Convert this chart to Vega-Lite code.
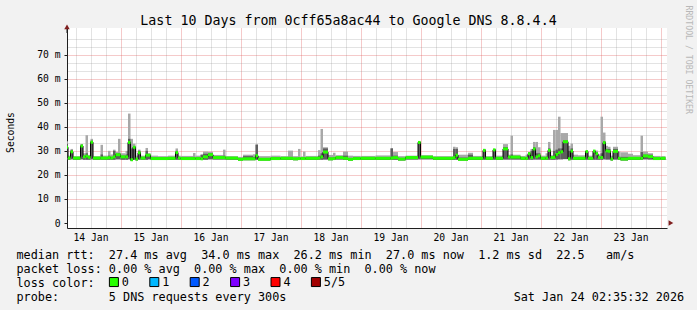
{
  "$schema": "https://vega.github.io/schema/vega-lite/v6.json",
  "width": 600,
  "height": 200,
  "autosize": {"type": "none"},
  "padding": {"left": 67, "top": 28, "right": 30, "bottom": 82},
  "background": "#f2f2f2",
  "view": {"fill": "#ffffff", "stroke": null},
  "config": {"font": "DejaVu Sans Mono"},
  "title": {
    "text": "Last 10 Days from 0cff65a8ac44 to Google DNS 8.8.4.4",
    "font": "DejaVu Sans Mono", "fontSize": 13.3, "fontWeight": "normal", "color": "#000000",
    "anchor": "middle", "frame": "group", "dx": -18.5, "offset": -33, "baseline": "alphabetic"
  },
  "resolve": {"axis": {"x": "independent", "y": "independent"}},
  "data": {"values": [
    {"t0":"2026-01-14T02:00","t1":"2026-01-14T03:00","m":31.5,"lo":26.5,"hi":34,"dk":33,"loss":"0"},
    {"t0":"2026-01-14T03:00","t1":"2026-01-14T04:00","m":27,"lo":26.3,"hi":28,"dk":27.4,"loss":"0"},
    {"t0":"2026-01-14T04:00","t1":"2026-01-14T05:00","m":29.6,"lo":26.5,"hi":30.8,"dk":30.3,"loss":"0"},
    {"t0":"2026-01-14T05:00","t1":"2026-01-14T08:00","m":27,"lo":26.3,"hi":27.8,"dk":27.3,"loss":"0"},
    {"t0":"2026-01-14T08:00","t1":"2026-01-14T09:00","m":32,"lo":26.5,"hi":32.8,"dk":32.5,"loss":"0"},
    {"t0":"2026-01-14T09:00","t1":"2026-01-14T10:00","m":27.5,"lo":26.3,"hi":29,"dk":28,"loss":"0"},
    {"t0":"2026-01-14T10:00","t1":"2026-01-14T11:00","m":27.8,"lo":26.3,"hi":36.5,"dk":29,"loss":"0"},
    {"t0":"2026-01-14T11:00","t1":"2026-01-14T12:00","m":27.3,"lo":26.3,"hi":28.3,"dk":27.7,"loss":"0"},
    {"t0":"2026-01-14T12:00","t1":"2026-01-14T13:00","m":33.6,"lo":26.5,"hi":35,"dk":34.2,"loss":"0"},
    {"t0":"2026-01-14T13:00","t1":"2026-01-14T16:00","m":27,"lo":26.3,"hi":27.8,"dk":27.3,"loss":"0"},
    {"t0":"2026-01-14T16:00","t1":"2026-01-14T17:00","m":27,"lo":26.3,"hi":32.5,"dk":28.5,"loss":"0"},
    {"t0":"2026-01-14T17:00","t1":"2026-01-14T19:00","m":27,"lo":26.3,"hi":28,"dk":27.4,"loss":"0"},
    {"t0":"2026-01-14T19:00","t1":"2026-01-14T20:00","m":27.2,"lo":26.3,"hi":30,"dk":28,"loss":"0"},
    {"t0":"2026-01-14T20:00","t1":"2026-01-14T21:00","m":27,"lo":26.3,"hi":28.5,"dk":27.5,"loss":"0"},
    {"t0":"2026-01-14T21:00","t1":"2026-01-14T22:00","m":27.5,"lo":26.3,"hi":30.5,"dk":30,"loss":"0"},
    {"t0":"2026-01-14T22:00","t1":"2026-01-14T23:00","m":28.4,"lo":26.5,"hi":29.5,"dk":28.8,"loss":"0"},
    {"t0":"2026-01-14T23:00","t1":"2026-01-15T00:00","m":28.4,"lo":26.5,"hi":35,"dk":29,"loss":"0"},
    {"t0":"2026-01-15T00:00","t1":"2026-01-15T02:00","m":27.5,"lo":26.3,"hi":29,"dk":28,"loss":"0"},
    {"t0":"2026-01-15T02:00","t1":"2026-01-15T03:00","m":27.5,"lo":26.3,"hi":30,"dk":28.5,"loss":"0"},
    {"t0":"2026-01-15T03:00","t1":"2026-01-15T04:00","m":33.5,"lo":26.5,"hi":45.5,"dk":35,"loss":"0"},
    {"t0":"2026-01-15T04:00","t1":"2026-01-15T05:00","m":26.3,"lo":25.8,"hi":35,"dk":31,"loss":"0"},
    {"t0":"2026-01-15T05:00","t1":"2026-01-15T06:00","m":31.5,"lo":26.3,"hi":33,"dk":32,"loss":"0"},
    {"t0":"2026-01-15T06:00","t1":"2026-01-15T07:00","m":26.6,"lo":26,"hi":28,"dk":27,"loss":"0"},
    {"t0":"2026-01-15T07:00","t1":"2026-01-15T08:00","m":29.2,"lo":26.3,"hi":30.5,"dk":30,"loss":"0"},
    {"t0":"2026-01-15T08:00","t1":"2026-01-15T10:00","m":27,"lo":26.3,"hi":28,"dk":27.4,"loss":"0"},
    {"t0":"2026-01-15T10:00","t1":"2026-01-15T11:00","m":28.2,"lo":26.3,"hi":31.2,"dk":30,"loss":"0"},
    {"t0":"2026-01-15T11:00","t1":"2026-01-15T12:00","m":28.2,"lo":26.5,"hi":29,"dk":28.6,"loss":"0"},
    {"t0":"2026-01-15T12:00","t1":"2026-01-15T15:00","m":26.8,"lo":26.2,"hi":28,"dk":27.3,"loss":"0"},
    {"t0":"2026-01-15T15:00","t1":"2026-01-15T19:00","m":26.8,"lo":26.2,"hi":27.8,"dk":27.2,"loss":"0"},
    {"t0":"2026-01-15T19:00","t1":"2026-01-15T22:00","m":26.9,"lo":26.2,"hi":28,"dk":27.4,"loss":"0"},
    {"t0":"2026-01-15T22:00","t1":"2026-01-15T23:00","m":29.3,"lo":26.3,"hi":31,"dk":30,"loss":"0"},
    {"t0":"2026-01-15T23:00","t1":"2026-01-16T00:00","m":27,"lo":26.3,"hi":28,"dk":27.4,"loss":"0"},
    {"t0":"2026-01-16T00:00","t1":"2026-01-16T05:00","m":26.8,"lo":26.2,"hi":27.9,"dk":27.2,"loss":"0"},
    {"t0":"2026-01-16T05:00","t1":"2026-01-16T06:00","m":26.8,"lo":26.2,"hi":29.1,"dk":27.5,"loss":"0"},
    {"t0":"2026-01-16T06:00","t1":"2026-01-16T08:00","m":26.8,"lo":26.2,"hi":28,"dk":27.2,"loss":"0"},
    {"t0":"2026-01-16T08:00","t1":"2026-01-16T09:00","m":26.7,"lo":26.2,"hi":28.6,"dk":28.3,"loss":"0"},
    {"t0":"2026-01-16T09:00","t1":"2026-01-16T11:00","m":27.5,"lo":26.3,"hi":29.7,"dk":28.8,"loss":"0"},
    {"t0":"2026-01-16T11:00","t1":"2026-01-16T13:00","m":28.4,"lo":26.5,"hi":29.6,"dk":29,"loss":"0"},
    {"t0":"2026-01-16T13:00","t1":"2026-01-16T17:00","m":27.2,"lo":26.4,"hi":28.3,"dk":27.6,"loss":"0"},
    {"t0":"2026-01-16T17:00","t1":"2026-01-16T18:00","m":27.2,"lo":26.4,"hi":30.5,"dk":28,"loss":"0"},
    {"t0":"2026-01-16T18:00","t1":"2026-01-16T23:00","m":27,"lo":26.3,"hi":27.8,"dk":27.3,"loss":"0"},
    {"t0":"2026-01-16T23:00","t1":"2026-01-17T01:00","m":26.5,"lo":26,"hi":27.5,"dk":26.9,"loss":"0"},
    {"t0":"2026-01-17T01:00","t1":"2026-01-17T05:00","m":26.7,"lo":26.1,"hi":28.4,"dk":27.8,"loss":"0"},
    {"t0":"2026-01-17T05:00","t1":"2026-01-17T06:00","m":26.7,"lo":26.1,"hi":28.6,"dk":27.5,"loss":"0"},
    {"t0":"2026-01-17T06:00","t1":"2026-01-17T07:00","m":28,"lo":26.3,"hi":32.8,"dk":32.5,"loss":"0"},
    {"t0":"2026-01-17T07:00","t1":"2026-01-17T12:00","m":26.5,"lo":26,"hi":27.8,"dk":27,"loss":"0"},
    {"t0":"2026-01-17T12:00","t1":"2026-01-17T16:00","m":26.8,"lo":26.2,"hi":28,"dk":27.3,"loss":"0"},
    {"t0":"2026-01-17T16:00","t1":"2026-01-17T19:00","m":26.9,"lo":26.2,"hi":27.8,"dk":27.3,"loss":"0"},
    {"t0":"2026-01-17T19:00","t1":"2026-01-17T21:00","m":26.9,"lo":26.2,"hi":30.1,"dk":27.5,"loss":"0"},
    {"t0":"2026-01-17T21:00","t1":"2026-01-17T23:00","m":26.7,"lo":26.1,"hi":27.8,"dk":27.1,"loss":"0"},
    {"t0":"2026-01-17T23:00","t1":"2026-01-18T00:00","m":26.8,"lo":26.2,"hi":30.8,"dk":27.3,"loss":"0"},
    {"t0":"2026-01-18T00:00","t1":"2026-01-18T01:00","m":26.8,"lo":26.2,"hi":27.7,"dk":27.2,"loss":"0"},
    {"t0":"2026-01-18T01:00","t1":"2026-01-18T02:00","m":26.8,"lo":26.2,"hi":29.7,"dk":27.3,"loss":"0"},
    {"t0":"2026-01-18T02:00","t1":"2026-01-18T07:00","m":26.9,"lo":26.2,"hi":27.9,"dk":27.3,"loss":"0"},
    {"t0":"2026-01-18T07:00","t1":"2026-01-18T08:00","m":27,"lo":26.3,"hi":30.3,"dk":28,"loss":"0"},
    {"t0":"2026-01-18T08:00","t1":"2026-01-18T09:00","m":27.5,"lo":26.3,"hi":39.1,"dk":29,"loss":"0"},
    {"t0":"2026-01-18T09:00","t1":"2026-01-18T11:00","m":29.5,"lo":26.4,"hi":31.5,"dk":31,"loss":"0"},
    {"t0":"2026-01-18T11:00","t1":"2026-01-18T13:00","m":26.7,"lo":26.1,"hi":28.3,"dk":27.2,"loss":"0"},
    {"t0":"2026-01-18T13:00","t1":"2026-01-18T14:00","m":26.8,"lo":26.2,"hi":29.2,"dk":27.4,"loss":"0"},
    {"t0":"2026-01-18T14:00","t1":"2026-01-18T17:00","m":27.2,"lo":26.4,"hi":28.2,"dk":27.6,"loss":"0"},
    {"t0":"2026-01-18T17:00","t1":"2026-01-18T19:00","m":26.9,"lo":26.2,"hi":29.7,"dk":28,"loss":"0"},
    {"t0":"2026-01-18T19:00","t1":"2026-01-18T21:00","m":26.5,"lo":26,"hi":28,"dk":27,"loss":"0"},
    {"t0":"2026-01-18T21:00","t1":"2026-01-19T00:00","m":26.8,"lo":26.2,"hi":27.9,"dk":27.2,"loss":"0"},
    {"t0":"2026-01-19T00:00","t1":"2026-01-19T06:00","m":26.9,"lo":26.2,"hi":27.9,"dk":27.3,"loss":"0"},
    {"t0":"2026-01-19T06:00","t1":"2026-01-19T12:00","m":26.9,"lo":26.2,"hi":28.1,"dk":27.3,"loss":"0"},
    {"t0":"2026-01-19T12:00","t1":"2026-01-19T13:00","m":27,"lo":26.3,"hi":31.1,"dk":31,"loss":"0"},
    {"t0":"2026-01-19T13:00","t1":"2026-01-19T15:00","m":27.2,"lo":26.3,"hi":29.5,"dk":28,"loss":"0"},
    {"t0":"2026-01-19T15:00","t1":"2026-01-19T18:00","m":26.6,"lo":26,"hi":27.8,"dk":27,"loss":"0"},
    {"t0":"2026-01-19T18:00","t1":"2026-01-19T23:00","m":27.2,"lo":26.4,"hi":28,"dk":27.6,"loss":"0"},
    {"t0":"2026-01-19T23:00","t1":"2026-01-20T00:00","m":33.5,"lo":26.5,"hi":34.1,"dk":33.8,"loss":"0"},
    {"t0":"2026-01-20T00:00","t1":"2026-01-20T05:00","m":27.4,"lo":26.5,"hi":28.2,"dk":27.8,"loss":"0"},
    {"t0":"2026-01-20T05:00","t1":"2026-01-20T13:00","m":26.9,"lo":26.2,"hi":27.8,"dk":27.3,"loss":"0"},
    {"t0":"2026-01-20T13:00","t1":"2026-01-20T14:00","m":27.2,"lo":26.3,"hi":31.7,"dk":30.8,"loss":"0"},
    {"t0":"2026-01-20T14:00","t1":"2026-01-20T15:00","m":28.2,"lo":26.3,"hi":31.5,"dk":30.8,"loss":"0"},
    {"t0":"2026-01-20T15:00","t1":"2026-01-20T19:00","m":26.5,"lo":26,"hi":28.4,"dk":27.2,"loss":"0"},
    {"t0":"2026-01-20T19:00","t1":"2026-01-20T21:00","m":26.9,"lo":26.2,"hi":29.2,"dk":28.4,"loss":"0"},
    {"t0":"2026-01-20T21:00","t1":"2026-01-21T01:00","m":26.9,"lo":26.2,"hi":27.9,"dk":27.3,"loss":"0"},
    {"t0":"2026-01-21T01:00","t1":"2026-01-21T02:00","m":30.2,"lo":26.3,"hi":30.8,"dk":30.6,"loss":"0"},
    {"t0":"2026-01-21T02:00","t1":"2026-01-21T05:00","m":26.9,"lo":26.2,"hi":27.8,"dk":27.3,"loss":"0"},
    {"t0":"2026-01-21T05:00","t1":"2026-01-21T06:00","m":30.4,"lo":26.3,"hi":30.8,"dk":30.6,"loss":"0"},
    {"t0":"2026-01-21T06:00","t1":"2026-01-21T09:00","m":26.9,"lo":26.2,"hi":28,"dk":27.3,"loss":"0"},
    {"t0":"2026-01-21T09:00","t1":"2026-01-21T11:00","m":30.8,"lo":26.4,"hi":32.8,"dk":31.5,"loss":"0"},
    {"t0":"2026-01-21T11:00","t1":"2026-01-21T12:00","m":27.4,"lo":26.4,"hi":28.4,"dk":27.8,"loss":"0"},
    {"t0":"2026-01-21T12:00","t1":"2026-01-21T13:00","m":27.4,"lo":26.4,"hi":36.3,"dk":28.5,"loss":"0"},
    {"t0":"2026-01-21T13:00","t1":"2026-01-21T16:00","m":27.4,"lo":26.4,"hi":28.4,"dk":27.8,"loss":"0"},
    {"t0":"2026-01-21T16:00","t1":"2026-01-21T18:00","m":26.9,"lo":26.2,"hi":27.9,"dk":27.3,"loss":"0"},
    {"t0":"2026-01-21T18:00","t1":"2026-01-21T19:00","m":26.9,"lo":26.2,"hi":28.4,"dk":27.5,"loss":"0"},
    {"t0":"2026-01-21T19:00","t1":"2026-01-21T20:00","m":28.8,"lo":26.3,"hi":29.5,"dk":29.3,"loss":"0"},
    {"t0":"2026-01-21T20:00","t1":"2026-01-21T21:00","m":27.2,"lo":26.3,"hi":30.8,"dk":30,"loss":"0"},
    {"t0":"2026-01-21T21:00","t1":"2026-01-21T22:00","m":30.8,"lo":26.4,"hi":33.7,"dk":31.5,"loss":"0"},
    {"t0":"2026-01-21T22:00","t1":"2026-01-21T23:00","m":27.5,"lo":26.4,"hi":33.7,"dk":29,"loss":"0"},
    {"t0":"2026-01-21T23:00","t1":"2026-01-22T00:00","m":28,"lo":26.4,"hi":31.5,"dk":29,"loss":"0"},
    {"t0":"2026-01-22T00:00","t1":"2026-01-22T02:00","m":26.9,"lo":26.2,"hi":28,"dk":27.3,"loss":"0"},
    {"t0":"2026-01-22T02:00","t1":"2026-01-22T03:00","m":27,"lo":26.3,"hi":29,"dk":27.6,"loss":"0"},
    {"t0":"2026-01-22T03:00","t1":"2026-01-22T04:00","m":30.2,"lo":26.3,"hi":33.7,"dk":31,"loss":"0"},
    {"t0":"2026-01-22T04:00","t1":"2026-01-22T05:00","m":27.2,"lo":26.3,"hi":28.2,"dk":27.6,"loss":"0"},
    {"t0":"2026-01-22T05:00","t1":"2026-01-22T06:00","m":27.3,"lo":26.3,"hi":38.7,"dk":30,"loss":"0"},
    {"t0":"2026-01-22T06:00","t1":"2026-01-22T07:00","m":28.5,"lo":26.4,"hi":38.7,"dk":30.5,"loss":"0"},
    {"t0":"2026-01-22T07:00","t1":"2026-01-22T08:00","m":29.2,"lo":26.5,"hi":44.2,"dk":31,"loss":"0"},
    {"t0":"2026-01-22T08:00","t1":"2026-01-22T09:00","m":29.6,"lo":26.5,"hi":37.4,"dk":31,"loss":"0"},
    {"t0":"2026-01-22T09:00","t1":"2026-01-22T11:00","m":33.8,"lo":26.6,"hi":37.4,"dk":34.3,"loss":"0"},
    {"t0":"2026-01-22T11:00","t1":"2026-01-22T12:00","m":26.7,"lo":26.1,"hi":32.1,"dk":30,"loss":"0"},
    {"t0":"2026-01-22T12:00","t1":"2026-01-22T13:00","m":29.9,"lo":26.3,"hi":33,"dk":31,"loss":"0"},
    {"t0":"2026-01-22T13:00","t1":"2026-01-22T15:00","m":26.9,"lo":26.2,"hi":28.4,"dk":27.4,"loss":"0"},
    {"t0":"2026-01-22T15:00","t1":"2026-01-22T18:00","m":26.9,"lo":26.2,"hi":28.2,"dk":27.3,"loss":"0"},
    {"t0":"2026-01-22T18:00","t1":"2026-01-22T19:00","m":29.7,"lo":26.3,"hi":29.9,"dk":29.8,"loss":"0"},
    {"t0":"2026-01-22T19:00","t1":"2026-01-22T21:00","m":26.9,"lo":26.2,"hi":28,"dk":27.3,"loss":"0"},
    {"t0":"2026-01-22T21:00","t1":"2026-01-22T22:00","m":29.9,"lo":26.3,"hi":30.1,"dk":30,"loss":"0"},
    {"t0":"2026-01-22T22:00","t1":"2026-01-22T23:00","m":28.8,"lo":26.3,"hi":30.1,"dk":29.3,"loss":"0"},
    {"t0":"2026-01-22T23:00","t1":"2026-01-23T00:00","m":27.2,"lo":26.3,"hi":28.5,"dk":27.6,"loss":"0"},
    {"t0":"2026-01-23T00:00","t1":"2026-01-23T01:00","m":27.2,"lo":26.3,"hi":44.2,"dk":29,"loss":"0"},
    {"t0":"2026-01-23T01:00","t1":"2026-01-23T02:00","m":33.4,"lo":26.5,"hi":37.6,"dk":34,"loss":"0"},
    {"t0":"2026-01-23T02:00","t1":"2026-01-23T03:00","m":30,"lo":26.4,"hi":32.1,"dk":30.8,"loss":"0"},
    {"t0":"2026-01-23T03:00","t1":"2026-01-23T04:00","m":29.8,"lo":26.4,"hi":31.7,"dk":30.8,"loss":"0"},
    {"t0":"2026-01-23T04:00","t1":"2026-01-23T05:00","m":26.6,"lo":26,"hi":28,"dk":27,"loss":"0"},
    {"t0":"2026-01-23T05:00","t1":"2026-01-23T07:00","m":29.8,"lo":26.4,"hi":31.7,"dk":30.8,"loss":"0"},
    {"t0":"2026-01-23T07:00","t1":"2026-01-23T08:00","m":26.9,"lo":26.2,"hi":29.7,"dk":27.5,"loss":"0"},
    {"t0":"2026-01-23T08:00","t1":"2026-01-23T11:00","m":26.6,"lo":26,"hi":29.4,"dk":27.5,"loss":"0"},
    {"t0":"2026-01-23T11:00","t1":"2026-01-23T13:00","m":26.9,"lo":26.2,"hi":28.8,"dk":27.4,"loss":"0"},
    {"t0":"2026-01-23T13:00","t1":"2026-01-23T16:00","m":26.9,"lo":26.2,"hi":28.2,"dk":27.3,"loss":"0"},
    {"t0":"2026-01-23T16:00","t1":"2026-01-23T17:00","m":26.9,"lo":26.2,"hi":36.3,"dk":29.5,"loss":"0"},
    {"t0":"2026-01-23T17:00","t1":"2026-01-23T19:00","m":27.9,"lo":26.5,"hi":29.7,"dk":28.4,"loss":"0"},
    {"t0":"2026-01-23T19:00","t1":"2026-01-23T21:00","m":27.6,"lo":26.4,"hi":29,"dk":28.4,"loss":"0"},
    {"t0":"2026-01-23T21:00","t1":"2026-01-24T00:00","m":26.8,"lo":26.2,"hi":27.9,"dk":27.2,"loss":"0"},
    {"t0":"2026-01-24T00:00","t1":"2026-01-24T02:00","m":26.9,"lo":26.2,"hi":27.8,"dk":27.3,"loss":"0"}
  ]},
  "layer": [
    {
      "mark": {"type": "rect", "color": "#a8a8a8", "clip": true},
      "encoding": {
        "x": {
          "field": "t0", "type": "temporal",
          "scale": {"domain": [{"year": 2026, "month": 1, "date": 14, "hours": 2, "minutes": 35, "seconds": 32}, {"year": 2026, "month": 1, "date": 24, "hours": 2, "minutes": 35, "seconds": 32}]},
          "axis": {
            "orient": "bottom",
            "values": [
              {"year": 2026, "month": 1, "date": 14, "hours": 12}, {"year": 2026, "month": 1, "date": 15, "hours": 12},
              {"year": 2026, "month": 1, "date": 16, "hours": 12}, {"year": 2026, "month": 1, "date": 17, "hours": 12},
              {"year": 2026, "month": 1, "date": 18, "hours": 12}, {"year": 2026, "month": 1, "date": 19, "hours": 12},
              {"year": 2026, "month": 1, "date": 20, "hours": 12}, {"year": 2026, "month": 1, "date": 21, "hours": 12},
              {"year": 2026, "month": 1, "date": 22, "hours": 12}, {"year": 2026, "month": 1, "date": 23, "hours": 12}
            ],
            "format": "%d %b",
            "grid": false, "ticks": false,
            "domainColor": "#1f1f1f",
            "labelFont": "DejaVu Sans Mono", "labelFontSize": 9.7, "labelColor": "#000000",
            "labelPadding": 4.5, "labelOverlap": false, "labelBound": false, "labelFlush": false,
            "title": [
              "median\u00a0rtt:\u00a0\u00a027.4\u00a0ms\u00a0avg\u00a0\u00a034.0\u00a0ms\u00a0max\u00a0\u00a026.2\u00a0ms\u00a0min\u00a0\u00a027.0\u00a0ms\u00a0now\u00a0\u00a01.2\u00a0ms\u00a0sd\u00a0\u00a022.5\u00a0\u00a0\u00a0am/s",
              "packet\u00a0loss:\u00a00.00\u00a0%\u00a0avg\u00a0\u00a00.00\u00a0%\u00a0max\u00a0\u00a00.00\u00a0%\u00a0min\u00a0\u00a00.00\u00a0%\u00a0now",
              "loss\u00a0color:",
              "probe:\u00a0\u00a0\u00a0\u00a0\u00a0\u00a0\u00a05\u00a0DNS\u00a0requests\u00a0every\u00a0300s\u00a0\u00a0\u00a0\u00a0\u00a0\u00a0\u00a0\u00a0\u00a0\u00a0\u00a0\u00a0\u00a0\u00a0\u00a0\u00a0\u00a0\u00a0\u00a0\u00a0\u00a0\u00a0\u00a0\u00a0\u00a0\u00a0\u00a0\u00a0\u00a0\u00a0\u00a0\u00a0Sat\u00a0Jan\u00a024\u00a002:35:32\u00a02026"
            ],
            "titleFont": "DejaVu Sans Mono", "titleFontSize": 11.8, "titleFontWeight": "normal", "titleColor": "#000000",
            "titleLineHeight": 14, "titleAlign": "left", "titleAnchor": "start", "titleBaseline": "alphabetic",
            "titleX": -51, "titleY": 30.3, "titleLimit": 2000
          }
        },
        "x2": {"field": "t1"},
        "y": {
          "field": "lo", "type": "quantitative",
          "scale": {"domain": [0, 79], "nice": false, "zero": true},
          "axis": {
            "orient": "left",
            "values": [0, 10, 20, 30, 40, 50, 60, 70],
            "grid": false,
            "domainColor": "#1f1f1f",
            "tickSize": 3, "tickColor": "#1f1f1f",
            "labelExpr": "datum.value == 0 ? '0' : format(datum.value, 'd') + ' m'",
            "labelFont": "DejaVu Sans Mono", "labelFontSize": 9.7, "labelColor": "#000000",
            "labelPadding": 4, "labelOverlap": false, "labelBound": false, "labelFlush": false,
            "title": "Seconds",
            "titleFont": "DejaVu Sans Mono", "titleFontSize": 9.7, "titleFontWeight": "normal", "titleColor": "#000000",
            "titleX": -57, "titleY": 104, "titleAngle": 270, "titleAlign": "center", "titleBaseline": "middle"
          }
        },
        "y2": {"field": "hi"}
      }
    },
    {
      "mark": {"type": "rect", "color": "#5e5e5e", "clip": true},
      "encoding": {
        "x": {"field": "t0", "type": "temporal",
          "axis": {
            "orient": "bottom", "domain": false, "ticks": false, "labels": false, "title": null,
            "grid": true, "gridColor": "#8f8f8f", "gridOpacity": 0.5, "gridDash": [1, 1],
            "values": [
              {"year": 2026, "month": 1, "date": 14, "hours": 6}, {"year": 2026, "month": 1, "date": 14, "hours": 12}, {"year": 2026, "month": 1, "date": 14, "hours": 18},
              {"year": 2026, "month": 1, "date": 15, "hours": 6}, {"year": 2026, "month": 1, "date": 15, "hours": 12}, {"year": 2026, "month": 1, "date": 15, "hours": 18},
              {"year": 2026, "month": 1, "date": 16, "hours": 6}, {"year": 2026, "month": 1, "date": 16, "hours": 12}, {"year": 2026, "month": 1, "date": 16, "hours": 18},
              {"year": 2026, "month": 1, "date": 17, "hours": 6}, {"year": 2026, "month": 1, "date": 17, "hours": 12}, {"year": 2026, "month": 1, "date": 17, "hours": 18},
              {"year": 2026, "month": 1, "date": 18, "hours": 6}, {"year": 2026, "month": 1, "date": 18, "hours": 12}, {"year": 2026, "month": 1, "date": 18, "hours": 18},
              {"year": 2026, "month": 1, "date": 19, "hours": 6}, {"year": 2026, "month": 1, "date": 19, "hours": 12}, {"year": 2026, "month": 1, "date": 19, "hours": 18},
              {"year": 2026, "month": 1, "date": 20, "hours": 6}, {"year": 2026, "month": 1, "date": 20, "hours": 12}, {"year": 2026, "month": 1, "date": 20, "hours": 18},
              {"year": 2026, "month": 1, "date": 21, "hours": 6}, {"year": 2026, "month": 1, "date": 21, "hours": 12}, {"year": 2026, "month": 1, "date": 21, "hours": 18},
              {"year": 2026, "month": 1, "date": 22, "hours": 6}, {"year": 2026, "month": 1, "date": 22, "hours": 12}, {"year": 2026, "month": 1, "date": 22, "hours": 18},
              {"year": 2026, "month": 1, "date": 23, "hours": 6}, {"year": 2026, "month": 1, "date": 23, "hours": 12}, {"year": 2026, "month": 1, "date": 23, "hours": 18}
            ]
          }
        },
        "x2": {"field": "t1"},
        "y": {"field": "lo", "type": "quantitative",
          "axis": {
            "orient": "left", "domain": false, "ticks": false, "labels": false, "title": null,
            "grid": true, "gridColor": "#8f8f8f", "gridOpacity": 0.5, "gridDash": [1, 1],
            "values": [3.3333, 6.6667, 13.3333, 16.6667, 23.3333, 26.6667, 33.3333, 36.6667, 43.3333, 46.6667, 53.3333, 56.6667, 63.3333, 66.6667, 73.3333, 76.6667]
          }
        },
        "y2": {"field": "dk"}
      }
    },
    {
      "mark": {"type": "line", "interpolate": "step-after", "color": "#000000", "strokeWidth": 1, "clip": true},
      "encoding": {
        "x": {"field": "t0", "type": "temporal",
          "axis": {
            "orient": "bottom", "domain": false, "ticks": false, "labels": false, "title": null,
            "grid": true, "gridColor": "#de4f4f", "gridOpacity": 0.6, "gridDash": [1, 1],
            "values": [
              {"year": 2026, "month": 1, "date": 15}, {"year": 2026, "month": 1, "date": 16}, {"year": 2026, "month": 1, "date": 17},
              {"year": 2026, "month": 1, "date": 18}, {"year": 2026, "month": 1, "date": 19}, {"year": 2026, "month": 1, "date": 20},
              {"year": 2026, "month": 1, "date": 21}, {"year": 2026, "month": 1, "date": 22}, {"year": 2026, "month": 1, "date": 23},
              {"year": 2026, "month": 1, "date": 24}
            ]
          }
        },
        "y": {"field": "m", "type": "quantitative",
          "axis": {
            "orient": "left", "domain": false, "ticks": false, "labels": false, "title": null,
            "grid": true, "gridColor": "#de4f4f", "gridOpacity": 0.6, "gridDash": [1, 1],
            "values": [10, 20, 30, 40, 50, 60, 70]
          }
        }
      }
    },
    {
      "mark": {"type": "bar", "size": 3, "clip": true, "opacity": 1},
      "encoding": {
        "x": {"field": "t0", "type": "temporal", "axis": null},
        "x2": {"field": "t1"},
        "y": {"field": "m", "type": "quantitative", "axis": null},
        "color": {
          "field": "loss", "type": "nominal",
          "scale": {"domain": ["0", "1", "2", "3", "4", "5/5"], "range": ["#26ff00", "#00b8ff", "#0059ff", "#7e00ff", "#ff0000", "#a10000"]},
          "legend": {
            "orient": "none", "legendX": 41, "legendY": 248, "direction": "horizontal",
            "title": null,
            "labelFont": "DejaVu Sans Mono", "labelFontSize": 11.8, "labelColor": "#000000", "labelOffset": 2,
            "symbolType": "square", "symbolSize": 81, "symbolStrokeColor": "#000000", "symbolStrokeWidth": 1, "symbolOpacity": 1,
            "columnPadding": 18.4, "padding": 0, "rowPadding": 0
          }
        }
      }
    },
    {
      "data": {"values": [{}]},
      "mark": {"type": "rule", "color": "#1f1f1f", "strokeWidth": 1, "clip": false},
      "encoding": {
        "x": {"datum": {"year": 2026, "month": 1, "date": 14, "hours": 2, "minutes": 35, "seconds": 32}, "type": "temporal", "axis": null},
        "y": {"datum": 79, "type": "quantitative", "axis": null},
        "y2": {"datum": 81.5}
      }
    },
    {
      "data": {"values": [{}]},
      "mark": {"type": "point", "shape": "triangle-up", "filled": true, "color": "#801f1f", "size": 30, "opacity": 1, "clip": false},
      "encoding": {
        "x": {"datum": {"year": 2026, "month": 1, "date": 14, "hours": 2, "minutes": 35, "seconds": 32}, "type": "temporal", "axis": null},
        "y": {"datum": 81.5, "type": "quantitative",
          "axis": {
            "orient": "right", "domain": false, "ticks": false, "labels": false, "grid": false,
            "title": "RRDTOOL / TOBI OETIKER",
            "titleFont": "DejaVu Sans Mono", "titleFontSize": 8.2, "titleFontWeight": "normal", "titleColor": "#b8b8b8",
            "titleAngle": 90, "titleX": 20, "titleY": -23, "titleAlign": "left", "titleBaseline": "middle"
          }
        }
      }
    },
    {
      "data": {"values": [{}]},
      "mark": {"type": "point", "shape": "triangle-right", "filled": true, "color": "#801f1f", "size": 30, "opacity": 1, "clip": false},
      "encoding": {
        "x": {"datum": {"year": 2026, "month": 1, "date": 24, "hours": 4, "minutes": 10}, "type": "temporal", "axis": null},
        "y": {"datum": 0, "type": "quantitative", "axis": null}
      }
    }
  ]
}
